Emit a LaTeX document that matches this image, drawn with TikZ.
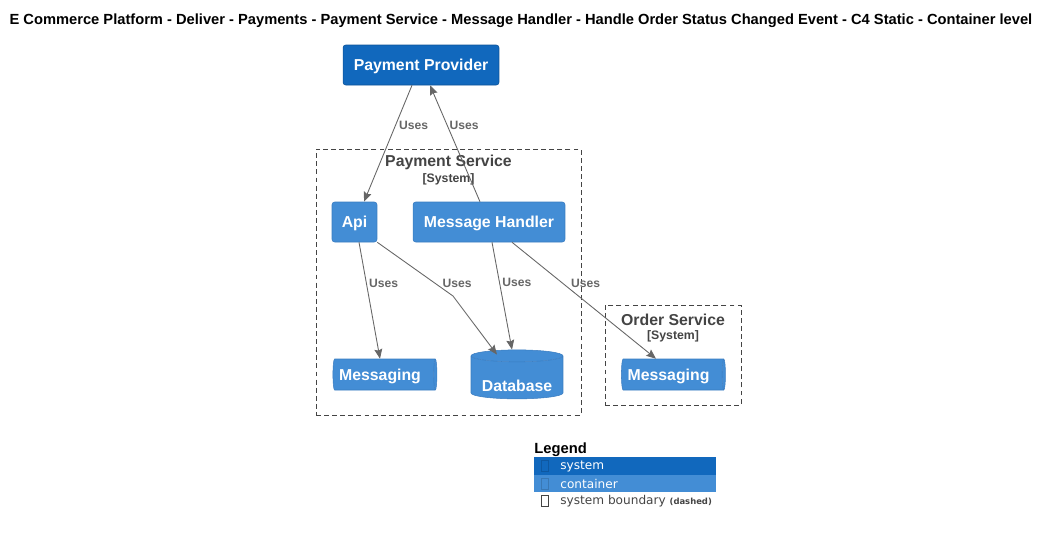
\documentclass[tikz,border=0pt]{standalone}
\usepackage{fontspec}
\setmainfont{Liberation Sans}
\newfontfamily\legendfont{DejaVu Sans}
\usetikzlibrary{positioning, arrows.meta, shapes.geometric, calc}
\definecolor{sysblue}{HTML}{1168BD}
\definecolor{contblue}{HTML}{438DD5}
\definecolor{contline}{HTML}{3A7CC0}
\definecolor{relgray}{HTML}{666666}
\definecolor{bndgray}{HTML}{444444}

\begin{document}
\begin{tikzpicture}[x=0.02cm, y=-0.02cm,
    system/.style={rectangle, rounded corners=1.5pt, fill=sysblue, draw=sysblue!80!black,
        line width=0.3pt, text=white, inner sep=0pt, text depth=0pt,
        font=\fontsize{9}{11}\selectfont\bfseries},
    container/.style={system, fill=contblue, draw=contline},
    store/.style={cylinder, cylinder uses custom fill, cylinder body fill=contblue,
        cylinder end fill=contblue, draw=contline, line width=0.3pt, text=white,
        inner sep=0pt, text depth=0pt, font=\fontsize{9}{11}\selectfont\bfseries},
    boundary/.style={rectangle, draw=bndgray, line width=0.5pt, dash pattern=on 2.8pt off 1.8pt},
    btitle/.style={text=bndgray, inner sep=0pt, yshift=-1pt, font=\fontsize{9}{11}\selectfont\bfseries},
    btype/.style={text=bndgray, inner sep=0pt, yshift=-1pt, font=\fontsize{7}{8}\selectfont\bfseries},
    rel/.style={draw=relgray, line width=0.5pt, -{Stealth[length=5.5pt, width=4.5pt, inset=0.8pt]}},
    uses/.style={text=relgray, inner sep=1.5pt, yshift=-1pt, font=\fontsize{6.9}{8}\selectfont\bfseries}]
    \useasboundingbox (0,0) rectangle (1049,535);

    % title
    \node[inner sep=0pt, yshift=-0.6pt, font=\fontsize{8.36}{10}\selectfont\bfseries] (title) at (521,20)
        {E Commerce Platform - Deliver - Payments - Payment Service - Message Handler - Handle Order Status Changed Event - C4 Static - Container level};

    % systems and boundaries
    \node[system, minimum width=3.12cm, minimum height=0.8cm] (pp) at (421,65) {Payment Provider};
    \node[boundary, minimum width=5.3cm, minimum height=5.32cm] (ps) at (448.5,282) {};
    \node[btitle] (psname) at (448.5,161) {Payment Service};
    \node[btype] (pstype) at (448.5,178) {[System]};
    \node[boundary, minimum width=2.72cm, minimum height=2cm] (os) at (673,355) {};
    \node[btitle] (osname) at (673,318) {Order Service};
    \node[btype] (ostype) at (673,335) {[System]};

    % containers
    \node[container, minimum width=0.9cm, minimum height=0.8cm] (api) at (354.5,222) {Api};
    \node[container, minimum width=3.04cm, minimum height=0.8cm] (mh) at (489,222) {Message Handler};
    \node[store, aspect=0.32, minimum width=0.62cm, minimum height=2.08cm] (msg1) at (384,374.5)
        {\raisebox{-0.8pt}{Messaging}\kern4.5pt};
    \node[store, shape border rotate=90, aspect=0.17, minimum width=1.84cm, minimum height=0.98cm] (db) at (517,377.5)
        {\raisebox{-8pt}{Database}};
    \node[store, aspect=0.32, minimum width=0.62cm, minimum height=2.08cm] (msg2) at (672.5,374.5)
        {\raisebox{-0.8pt}{Messaging}\kern4.5pt};

    % relations
    \coordinate (bend) at (453,296);
    \draw[rel] ($(pp.south)+(-9,0)$) -- node[uses, right, pos=0.33] {Uses} ($(api.north)+(9.5,0)$);
    \draw[rel] ($(mh.north)+(-9,0)$) -- node[uses, right, pos=0.67] {Uses} ($(pp.south)+(9,0)$);
    \draw[rel] ($(api.south)+(4.5,0)$) -- node[uses, right, pos=0.34] {Uses} ($(msg1.north)+(-4,0)$);
    \draw[rel] (api.south east) -- node[uses, right, pos=0.73, xshift=4pt] {Uses} (bend) -- ($(db.north)+(-20,5)$);
    \draw[rel] ($(mh.south)+(3,0)$) -- node[uses, right, pos=0.36] {Uses} ($(db.north)+(-5,0)$);
    \draw[rel] ($(mh.south)+(23,0)$) -- node[uses, right, pos=0.34, xshift=4pt] {Uses} ($(msg2.north)+(-16.5,0)$);

    % legend
    \node[anchor=west, inner sep=0pt, font=\fontsize{8.4}{10}\selectfont\bfseries] (legend) at (534,450) {Legend};
    \node[anchor=north west, fill=sysblue, inner sep=0pt, minimum width=3.64cm, minimum height=0.36cm] (lsys) at (534,457) {};
    \node[anchor=north west, fill=contblue, inner sep=0pt, minimum width=3.64cm, minimum height=0.34cm] (lcont) at (534,475) {};
    \node[draw=sysblue!85!black, line width=0.3pt, inner sep=0pt, minimum width=0.14cm, minimum height=0.22cm] (lsysbox) at (544.5,466) {};
    \node[draw=contblue!85!black, line width=0.3pt, inner sep=0pt, minimum width=0.14cm, minimum height=0.22cm] (lcontbox) at (544.5,483.5) {};
    \node[draw=bndgray, line width=0.4pt, inner sep=0pt, minimum width=0.14cm, minimum height=0.22cm] (lbndbox) at (544.5,501) {};
    \node[anchor=west, inner sep=0pt, text=white, font=\legendfont\fontsize{6.9}{8}\selectfont] (lsystext) at (560,466) {system};
    \node[anchor=west, inner sep=0pt, text=white, font=\legendfont\fontsize{6.9}{8}\selectfont] (lconttext) at (560,483.5) {container};
    \node[anchor=west, inner sep=0pt, text=bndgray, font=\legendfont\fontsize{6.9}{8}\selectfont] (lbndtext) at (560,501)
        {system boundary {\fontsize{4.8}{5}\selectfont\bfseries(dashed)}};
\end{tikzpicture}
\end{document}
